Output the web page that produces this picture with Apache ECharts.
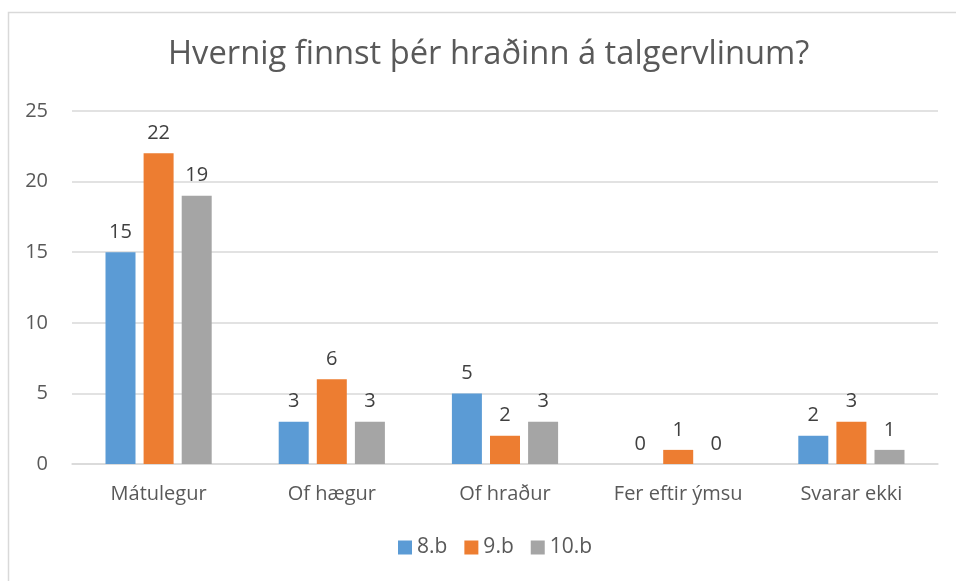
<!DOCTYPE html>
<html><head><meta charset="utf-8">
<script src="https://cdn.jsdelivr.net/npm/echarts@6/dist/echarts.min.js"></script>
<style>html,body{margin:0;padding:0;background:#fff}#c{width:956px;height:581px}</style>
</head><body><div id="c"></div>
<script>
const categories = ['Mátulegur', 'Of hægur', 'Of hraður', 'Fer eftir ýmsu', 'Svarar ekki'];
const s8 = [15, 3, 5, 0, 2];
const s9 = [22, 6, 2, 1, 3];
const s10 = [19, 3, 3, 0, 1];
const seriesNames = ['8.b', '9.b', '10.b'];
const colors = ['#5B9BD5', '#ED7D31', '#A5A5A5'];
const font = '"Open Sans", sans-serif';
const chart = echarts.init(document.getElementById('c'));
const label = {show: true, position: 'top', distance: 10, color: '#404040', fontSize: 20, fontFamily: font};
chart.setOption({
  animation: false,
  graphic: [{type: 'rect', shape: {x: 8.5, y: 12.5, width: 1000, height: 1000}, style: {fill: 'none', stroke: '#D9D9D9', lineWidth: 1.5}, z: -1}],
  title: {text: 'Hvernig finnst þér hraðinn á talgervlinum?', left: 163, top: 33,
    textStyle: {color: '#595959', fontSize: 32.7, fontWeight: 'normal', fontFamily: font}},
  legend: {left: 393, bottom: 18, itemWidth: 14, itemHeight: 14, itemGap: 17, itemTextGap: 5, icon: 'rect',
    textStyle: {color: '#595959', fontSize: 21, fontFamily: font}, data: seriesNames},
  grid: {left: 72, right: 18, top: 111, bottom: 117},
  xAxis: {type: 'category', data: categories,
    axisLine: {lineStyle: {color: '#D9D9D9', width: 1.5}}, axisTick: {show: false},
    axisLabel: {color: '#595959', fontSize: 20, fontFamily: font, margin: 20}},
  yAxis: {type: 'value', min: 0, max: 25, interval: 5,
    axisLine: {show: false}, axisTick: {show: false},
    splitLine: {lineStyle: {color: '#D9D9D9', width: 1.5}},
    axisLabel: {color: '#595959', fontSize: 20, fontFamily: font, margin: 24}},
  series: [
    {name: seriesNames[0], type: 'bar', data: s8, barWidth: 30, barGap: '27%', itemStyle: {color: colors[0]}, label},
    {name: seriesNames[1], type: 'bar', data: s9, barWidth: 30, barGap: '27%', itemStyle: {color: colors[1]}, label},
    {name: seriesNames[2], type: 'bar', data: s10, barWidth: 30, barGap: '27%', itemStyle: {color: colors[2]}, label}
  ]
});
</script></body></html>
